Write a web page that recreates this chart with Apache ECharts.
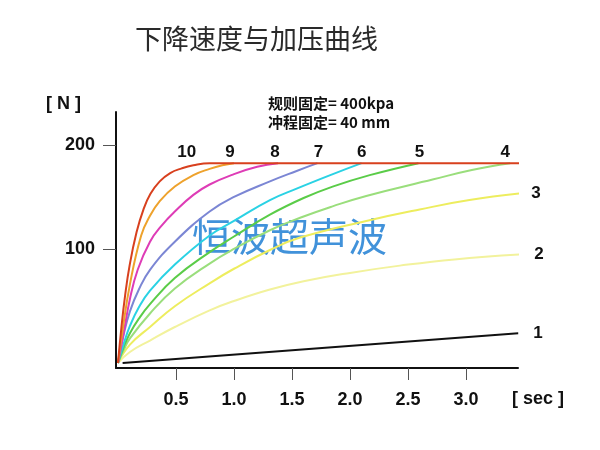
<!DOCTYPE html>
<html><head><meta charset="utf-8">
<script src="https://cdn.jsdelivr.net/npm/echarts@6/dist/echarts.min.js"></script>
<style>html,body{margin:0;padding:0;background:#fff}#c{width:600px;height:450px}</style>
</head><body><div id="c"></div>
<script>
// ---- data (time in sec, force in N) ----
const title = '下降速度与加压曲线';
const note1 = '规则固定= 400kpa';
const note2 = '冲程固定= 40 mm';
const watermark = '恒波超声波';
const xTicks = [0.5, 1.0, 1.5, 2.0, 2.5, 3.0];
const yTicks = [100, 200];
const names = ['1','2','3','4','5','6','7','8','9','10'];
const s1 = [[0.04,-9.6],[3.45,19]];
const s2 = [[0,-9.6],[0.103,1],[0.276,12],[0.49,25],[0.79,41],[1.0,50],[1.31,61],[1.6,69],[2.0,77],[2.43,84],[2.9,90],[3.52,95]];
const s3 = [[0,-9.6],[0.103,8],[0.276,25],[0.49,45],[0.79,67],[1.0,81],[1.31,99],[1.57,111],[2.14,127],[2.6,138],[3.03,147],[3.52,154]];
const s4 = [[0,-9.6],[0.05,3],[0.103,14],[0.276,38],[0.49,62],[0.79,86],[1.0,100],[1.31,118],[1.57,130],[1.85,141],[2.14,151],[2.72,167],[3.05,176],[3.38,182.5]];
const s5 = [[0,-9.6],[0.05,6],[0.103,19],[0.18,33],[0.276,47],[0.49,72],[0.79,97],[1.0,112],[1.31,133],[1.6,149],[1.85,160],[2.17,171],[2.59,182.5]];
const s6 = [[0,-9.6],[0.05,9],[0.103,26],[0.18,44],[0.276,60],[0.49,85],[0.79,113],[1.0,127],[1.31,147],[1.54,158],[1.83,171],[2.1,182.5]];
const s7 = [[0,-9.6],[0.05,18],[0.103,40],[0.18,61],[0.276,80],[0.49,107],[0.79,136],[1.0,150],[1.31,165],[1.54,175],[1.72,182.5]];
const s8 = [[0,-9.6],[0.05,20],[0.103,52],[0.17,80],[0.276,107],[0.38,123],[0.49,136],[0.65,152],[0.79,162],[1.0,172],[1.2,179],[1.38,182.5]];
const s9 = [[0,-9.6],[0.04,22],[0.103,66],[0.2,113],[0.276,132],[0.36,146],[0.49,160],[0.65,171],[0.79,177],[0.9,180.5],[1.0,182.5]];
const s10 = [[0,-9.6],[0.03,25],[0.06,54],[0.10,84],[0.16,116],[0.22,138],[0.28,153],[0.36,165],[0.45,173],[0.55,177.5],[0.65,180.5],[0.79,182.5],[3.64,182.5]];
const curves = [s1,s2,s3,s4,s5,s6,s7,s8,s9,s10];
const labelIndex = [1,11,11,13,12,11,10,11,10,11];

// ---- styles ----
const colors = ['#111111','#f2f29c','#eded5e','#9ade7c','#5acc48','#2ad2e4','#7b86d4','#de3cb6','#eea22c','#d8401e'];
const labelCfg = [
  {position:'right', distance:15},
  {position:'right', distance:8},
  {position:'right', distance:5},
  {position:'top', distance:2, offset:[-5,0]},
  {position:'top', distance:2, offset:[1,0]},
  {position:'top', distance:2, offset:[0,0]},
  {position:'top', distance:2, offset:[1,0]},
  {position:'top', distance:2, offset:[-3,0]},
  {position:'top', distance:2, offset:[-4,0]},
  {position:'top', distance:2, offset:[-23,0]}
];
const FONT = '"Liberation Sans", Arial, sans-serif';
const CJK = '"Noto Sans CJK SC", sans-serif';

const series = curves.map((d, i) => ({
  type: 'line',
  name: names[i],
  smooth: 0.45,
  clip: false,
  symbol: 'circle',
  symbolSize: 0,
  showSymbol: true,
  lineStyle: {color: colors[i], width: 2},
  itemStyle: {color: colors[i]},
  z: 2 + i,
  data: d.map((p, j) => j === labelIndex[i] ? {
    value: p,
    label: Object.assign({show: true, formatter: names[i], color: '#111',
      fontSize: 17, fontWeight: 'bold', fontFamily: FONT}, labelCfg[i])
  } : {value: p})
}));

const chart = echarts.init(document.getElementById('c'), null, {renderer: 'canvas'});
chart.setOption({
  animation: false,
  backgroundColor: '#fff',
  title: {text: title, left: 130, top: 20,
    textStyle: {fontSize: 27, fontWeight: 'normal', color: '#2a2a2a', fontFamily: CJK}},
  grid: {left: 116, top: 112, right: 82, bottom: 82},
  xAxis: {
    type: 'value', min: -0.017, max: 3.448,
    splitLine: {show: false},
    axisLine: {onZero: false, lineStyle: {color: '#111', width: 2}},
    axisTick: {show: true, customValues: xTicks, length: 12, inside: false, lineStyle: {color: '#555', width: 1}},
    axisLabel: {customValues: xTicks, margin: 23, formatter: v => v.toFixed(1),
      fontSize: 18, fontWeight: 'bold', color: '#111', fontFamily: FONT}
  },
  yAxis: {
    type: 'value', min: -14.42, max: 231.7,
    splitLine: {show: false},
    axisLine: {show: true, onZero: false, lineStyle: {color: '#111', width: 2}},
    axisTick: {show: true, customValues: yTicks, length: 13, lineStyle: {color: '#555', width: 1}},
    axisLabel: {customValues: yTicks, margin: 21,
      fontSize: 18, fontWeight: 'bold', color: '#111', fontFamily: FONT}
  },
  graphic: [
    {type: 'text', left: 46, top: 95, style: {text: '[ N ]', fill: '#111', font: 'bold 18px ' + FONT}},
    {type: 'text', left: 512, top: 390, style: {text: '[ sec ]', fill: '#111', font: 'bold 18px ' + FONT}},
    {type: 'text', left: 268, top: 96, style: {text: note1, fill: '#111', font: 'bold 15px ' + CJK}},
    {type: 'text', left: 268, top: 115, style: {text: note2, fill: '#111', font: 'bold 15px ' + CJK}},
    {type: 'text', left: 192, top: 217, z: 1, style: {text: watermark, fill: '#4192da', font: '39px ' + CJK}}
  ],
  series: series
});
</script>
</body></html>
